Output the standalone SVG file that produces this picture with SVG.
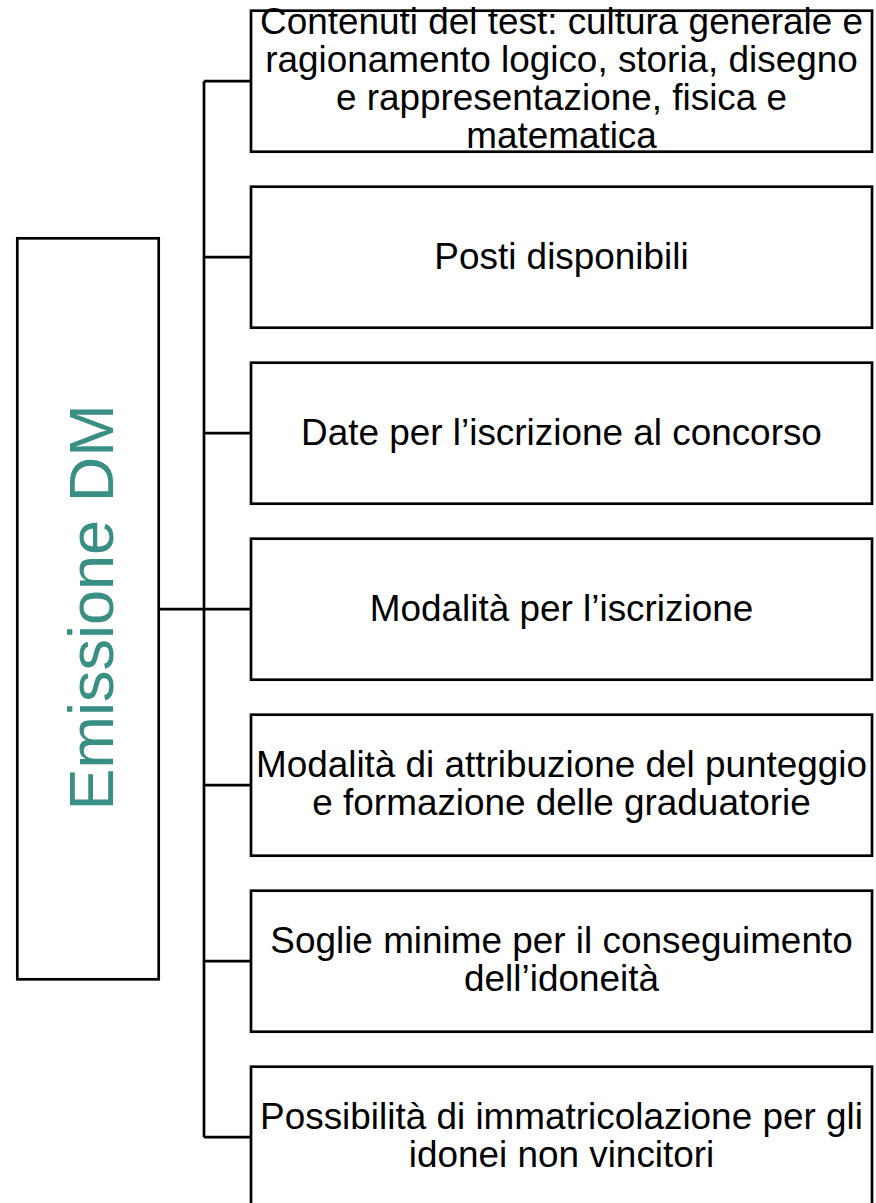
<svg xmlns="http://www.w3.org/2000/svg" width="876" height="1203" viewBox="0 0 876 1203">
<style>
.box{fill:#ffffff;stroke:#000000;stroke-width:2.7}
.lbl{font-family:"Liberation Sans",Arial,sans-serif;font-size:36.9px;fill:#000000;text-anchor:middle}
.main{font-family:"Liberation Sans",Arial,sans-serif;font-size:63px;fill:#3A8F84;text-anchor:middle}
.con{fill:none;stroke:#000000;stroke-width:2.7}
</style>
<rect width="876" height="1203" fill="#ffffff"/>
<g id="connectors">
<path class="con" d="M158.7 609.2H204M204 81.2V1137.2M204 81.2H251M204 257.2H251M204 433.2H251M204 609.2H251M204 785.2H251M204 961.2H251M204 1137.2H251"/>
</g>
<g id="root">
<rect class="box" x="17.3" y="238.3" width="141.4" height="741"/>
<text class="main" transform="translate(113.3,607.4) rotate(-90)">Emissione DM</text>
</g>
<g id="n1">
<rect class="box" x="251" y="10.7" width="621" height="141"/>
<text class="lbl" x="561.5" y="33.5">Contenuti del test: cultura generale e</text>
<text class="lbl" x="561.5" y="71.8">ragionamento logico, storia, disegno</text>
<text class="lbl" x="561.5" y="110.1">e rappresentazione, fisica e</text>
<text class="lbl" x="561.5" y="148.4">matematica</text>
</g>
<g id="n2">
<rect class="box" x="251" y="186.7" width="621" height="141"/>
<text class="lbl" x="561.5" y="268.8">Posti disponibili</text>
</g>
<g id="n3">
<rect class="box" x="251" y="362.7" width="621" height="141"/>
<text class="lbl" x="561.5" y="444.8">Date per l’iscrizione al concorso</text>
</g>
<g id="n4">
<rect class="box" x="251" y="538.7" width="621" height="141"/>
<text class="lbl" x="561.5" y="620.8">Modalità per l’iscrizione</text>
</g>
<g id="n5">
<rect class="box" x="251" y="714.7" width="621" height="141"/>
<text class="lbl" x="561.5" y="776.5">Modalità di attribuzione del punteggio</text>
<text class="lbl" x="561.5" y="814.8">e formazione delle graduatorie</text>
</g>
<g id="n6">
<rect class="box" x="251" y="890.7" width="621" height="141"/>
<text class="lbl" x="561.5" y="952.5">Soglie minime per il conseguimento</text>
<text class="lbl" x="561.5" y="990.8">dell’idoneità</text>
</g>
<g id="n7">
<rect class="box" x="251" y="1066.7" width="621" height="141"/>
<text class="lbl" x="561.5" y="1128.8">Possibilità di immatricolazione per gli</text>
<text class="lbl" x="561.5" y="1167.4">idonei non vincitori</text>
</g>
</svg>
